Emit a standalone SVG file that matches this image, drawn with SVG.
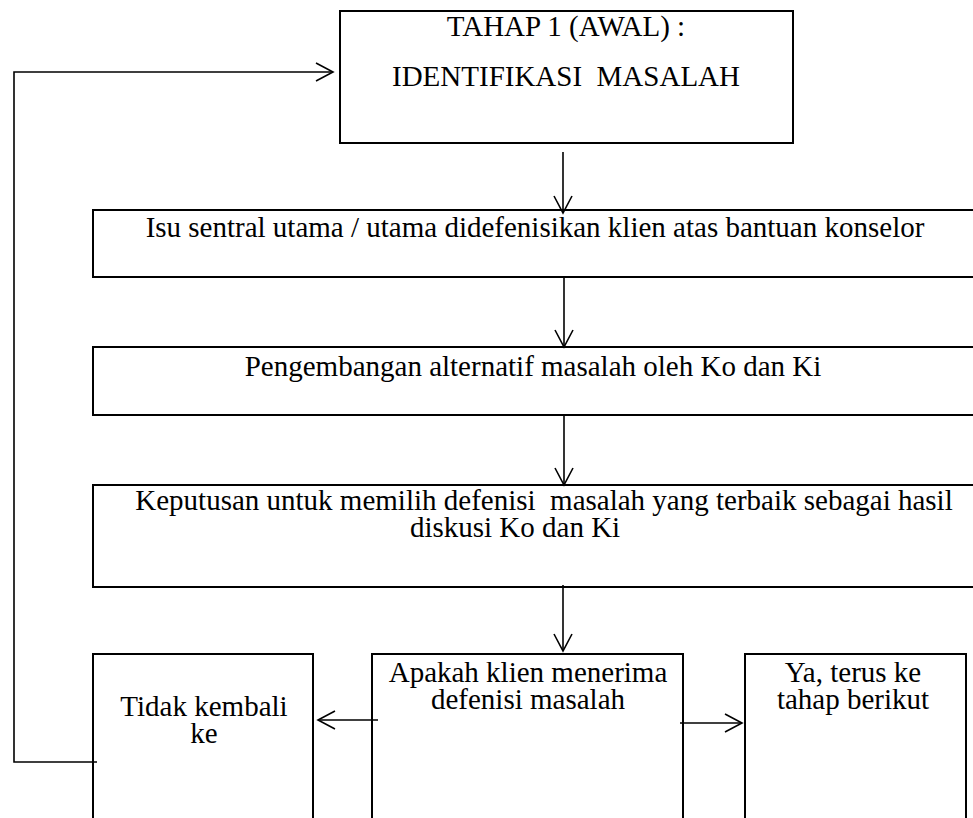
<svg xmlns="http://www.w3.org/2000/svg" width="973" height="818" viewBox="0 0 973 818">
<style>
.box{fill:#fff;stroke:#000;stroke-width:2}
.t{font-family:"Liberation Serif","Times New Roman",serif;font-size:29px;fill:#000;text-anchor:middle}
.c{fill:none;stroke:#000;stroke-width:1.6}
</style>
<defs>
<marker id="ah" viewBox="0 0 20 20" refX="18" refY="10" markerWidth="20" markerHeight="20" markerUnits="userSpaceOnUse" orient="auto">
<path d="M1,1 L18,10 L1,19" fill="none" stroke="#000" stroke-width="1.6"/>
</marker>
</defs>
<rect width="973" height="818" fill="#fff"/>
<g id="n1">
<rect class="box" x="340" y="11" width="453" height="132"/>
<text class="t" x="566" y="36">TAHAP 1 (AWAL) :</text>
<text class="t" x="566" y="86" xml:space="preserve">IDENTIFIKASI  MASALAH</text>
</g>
<g id="n2">
<rect class="box" x="93" y="210" width="900" height="67"/>
<text class="t" x="535" y="237">Isu sentral utama / utama didefenisikan klien atas bantuan konselor</text>
</g>
<g id="n3">
<rect class="box" x="93" y="347" width="900" height="68"/>
<text class="t" x="533" y="376">Pengembangan alternatif masalah oleh Ko dan Ki</text>
</g>
<g id="n4">
<rect class="box" x="93" y="485" width="900" height="102"/>
<text class="t" x="544" y="510" xml:space="preserve">Keputusan untuk memilih defenisi  masalah yang terbaik sebagai hasil</text>
<text class="t" x="515" y="537">diskusi Ko dan Ki</text>
</g>
<g id="n5">
<rect class="box" x="93" y="654" width="220" height="180"/>
<text class="t" x="204" y="716">Tidak kembali</text>
<text class="t" x="204" y="743">ke</text>
</g>
<g id="n6">
<rect class="box" x="372" y="654" width="311" height="180"/>
<text class="t" x="528" y="682">Apakah klien menerima</text>
<text class="t" x="528" y="709">defenisi masalah</text>
</g>
<g id="n7">
<rect class="box" x="745" y="654" width="221" height="180"/>
<text class="t" x="853" y="682">Ya, terus ke</text>
<text class="t" x="853" y="709">tahap berikut</text>
</g>
<g id="connectors">
<polyline class="c" points="97,762 14,762 14,72 333,72" marker-end="url(#ah)" stroke-width="2"/>
<line class="c" x1="563" y1="152" x2="563" y2="213" marker-end="url(#ah)"/>
<line class="c" x1="564" y1="278" x2="564" y2="347" marker-end="url(#ah)"/>
<line class="c" x1="564" y1="415" x2="564" y2="485" marker-end="url(#ah)"/>
<line class="c" x1="563" y1="585" x2="563" y2="651" marker-end="url(#ah)"/>
<line class="c" x1="378" y1="720" x2="318" y2="720" marker-end="url(#ah)"/>
<line class="c" x1="680" y1="723" x2="742" y2="723" marker-end="url(#ah)"/>
</g>
</svg>
